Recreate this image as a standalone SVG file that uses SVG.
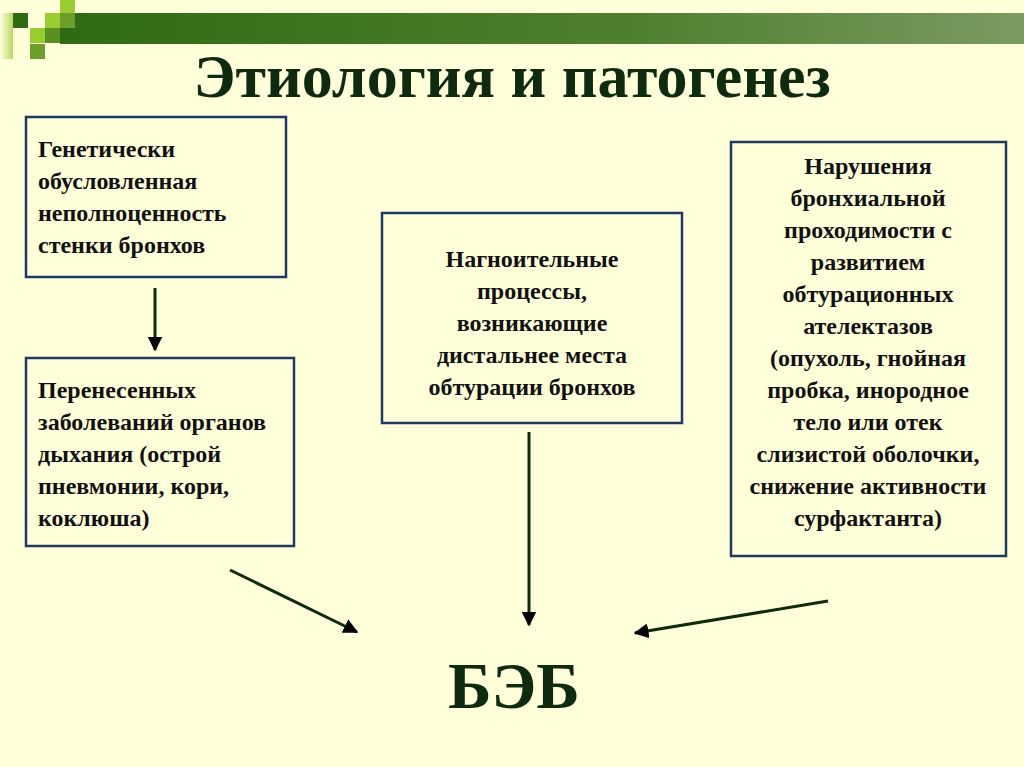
<svg xmlns="http://www.w3.org/2000/svg" width="1024" height="767" viewBox="0 0 1024 767">
<defs>
<linearGradient id="bar" x1="0" x2="1" y1="0" y2="0"><stop offset="0" stop-color="#2e6b12"/><stop offset="0.6" stop-color="#4f8030"/><stop offset="1" stop-color="#7c9a62"/></linearGradient>
<linearGradient id="side" x1="0" x2="1"><stop offset="0" stop-color="#fffde0"/><stop offset="1" stop-color="#b8d860"/></linearGradient>
<marker id="ah" viewBox="0 0 10 10" refX="9" refY="5" markerWidth="5" markerHeight="5" orient="auto"><path d="M0,0 L10,5 L0,10 z" fill="#000"/></marker>
<style>
.box{fill:none;stroke:#1f3864;stroke-width:2.5}
.t{font-family:"Liberation Serif",serif;font-weight:bold;font-size:24px;fill:#111}
.c{stroke:#0f2a0f;stroke-width:3;fill:none;marker-end:url(#ah)}
</style>
</defs>
<rect width="1024" height="767" fill="#ffffd9"/>
<rect x="60" y="13" width="964" height="31" fill="url(#bar)"/>
<rect x="0" y="13" width="13" height="46" fill="url(#side)"/>
<rect x="60" y="0" width="15" height="13" fill="#9acd32"/>
<rect x="13" y="13" width="15" height="15" fill="#2e6b12"/>
<rect x="45" y="13" width="15" height="15" fill="#9acd32"/>
<rect x="60" y="13" width="15" height="15" fill="#6b9e2a"/>
<rect x="30" y="28" width="15" height="15" fill="#9acd32"/>
<rect x="45" y="28" width="15" height="15" fill="#5a8f22"/>
<rect x="30" y="44" width="15" height="15" fill="#6b9e2a"/>
<text x="512" y="97" text-anchor="middle" font-family="Liberation Serif,serif" font-weight="bold" font-size="62" fill="#0f2a0f">Этиология и патогенез</text>
<g id="n1"><rect class="box" x="26" y="117" width="260" height="160"/>
<text class="t" x="38" y="157">Генетически</text><text class="t" x="38" y="189">обусловленная</text><text class="t" x="38" y="221">неполноценность</text><text class="t" x="38" y="253">стенки бронхов</text></g>
<g id="n2"><rect class="box" x="26" y="358" width="268" height="188"/>
<text class="t" x="38" y="398">Перенесенных</text><text class="t" x="38" y="430">заболеваний органов</text><text class="t" x="38" y="462">дыхания (острой</text><text class="t" x="38" y="494">пневмонии, кори,</text><text class="t" x="38" y="526">коклюша)</text></g>
<g id="n3"><rect class="box" x="382" y="213" width="300" height="210"/>
<g text-anchor="middle"><text class="t" x="532" y="267">Нагноительные</text><text class="t" x="532" y="299">процессы,</text><text class="t" x="532" y="331">возникающие</text><text class="t" x="532" y="363">дистальнее места</text><text class="t" x="532" y="395">обтурации бронхов</text></g></g>
<g id="n4"><rect class="box" x="731" y="142" width="275" height="414"/>
<g text-anchor="middle"><text class="t" x="868" y="174">Нарушения</text><text class="t" x="868" y="206">бронхиальной</text><text class="t" x="868" y="238">проходимости с</text><text class="t" x="868" y="270">развитием</text><text class="t" x="868" y="302">обтурационных</text><text class="t" x="868" y="334">ателектазов</text><text class="t" x="868" y="366">(опухоль, гнойная</text><text class="t" x="868" y="398">пробка, инородное</text><text class="t" x="868" y="430">тело или отек</text><text class="t" x="868" y="462">слизистой оболочки,</text><text class="t" x="868" y="494">снижение активности</text><text class="t" x="868" y="526">сурфактанта)</text></g></g>
<g id="n5"><text x="514" y="708" text-anchor="middle" font-family="Liberation Serif,serif" font-weight="bold" font-size="66" fill="#0f2a0f">БЭБ</text></g>
<g id="connectors">
<line class="c" x1="155" y1="288" x2="155" y2="350"/>
<line class="c" x1="230" y1="570" x2="357" y2="632"/>
<line class="c" x1="529" y1="432" x2="529" y2="625"/>
<line class="c" x1="828" y1="601" x2="635" y2="633"/>
</g>
</svg>
